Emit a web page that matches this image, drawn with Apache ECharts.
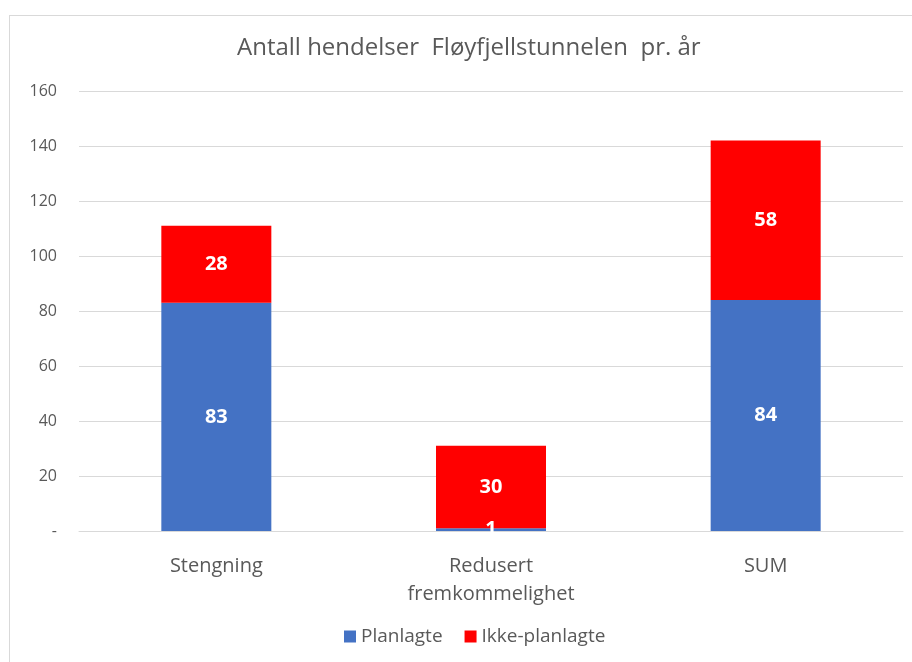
<!DOCTYPE html>
<html>
<head>
<meta charset="utf-8">
<script src="https://cdn.jsdelivr.net/npm/echarts@6/dist/echarts.min.js"></script>
<style>
  html, body { margin: 0; padding: 0; background: #fff; }
  #frame { position: absolute; left: 9px; top: 15px; width: 1000px; height: 1000px;
           border-left: 1px solid #d9d9d9; border-top: 1px solid #d9d9d9; }
  #main { position: absolute; left: 0; top: 0; width: 912px; height: 662px; }
</style>
</head>
<body>
<div id="frame"></div>
<div id="main"></div>
<script>
// kategorier og verdier
var categories = ['Stengning', 'Redusert\nfremkommelighet', 'SUM'];
var planlagte = [83, 1, 84];
var ikkePlanlagte = [28, 30, 58];

var FONT = '"Open Sans", "Noto Sans", sans-serif';

function initChart() {
    var myChart = echarts.init(document.getElementById('main'), null, { renderer: 'canvas' });

    var option = {
        backgroundColor: 'transparent',
        title: {
            text: 'Antall hendelser  Fløyfjellstunnelen  pr. år',
            left: 232,
            top: 31,
            textStyle: { fontFamily: FONT, fontSize: 24, fontWeight: 'normal', color: '#595959' }
        },
        legend: {
            bottom: 11,
            left: 339,
            itemWidth: 12,
            itemHeight: 12,
            itemGap: 22,
            icon: 'rect',
            textStyle: { fontFamily: FONT, fontSize: 19, color: '#595959' },
            data: ['Planlagte', 'Ikke-planlagte']
        },
        grid: { left: 79, right: 9, top: 91, bottom: 131 },
        xAxis: {
            type: 'category',
            data: categories,
            axisLine: { show: true, lineStyle: { color: '#d9d9d9' } },
            axisTick: { show: false },
            axisLabel: { fontFamily: FONT, fontSize: 20, color: '#595959', margin: 21, lineHeight: 28 }
        },
        yAxis: {
            type: 'value',
            min: 0,
            max: 160,
            interval: 20,
            axisLine: { show: false },
            axisTick: { show: false },
            splitLine: { lineStyle: { color: '#d9d9d9', width: 1 } },
            axisLabel: {
                fontFamily: FONT, fontSize: 16, color: '#595959', margin: 22,
                formatter: function (v) { return v === 0 ? '-' : v; }
            }
        },
        series: [
            {
                name: 'Planlagte',
                type: 'bar',
                stack: 'total',
                barWidth: 110,
                data: planlagte,
                itemStyle: { color: '#4472c4' },
                label: {
                    show: true, position: 'inside',
                    fontFamily: FONT, fontSize: 20, fontWeight: 'bold', color: '#fff'
                }
            },
            {
                name: 'Ikke-planlagte',
                type: 'bar',
                stack: 'total',
                barWidth: 110,
                data: ikkePlanlagte,
                itemStyle: { color: '#ff0000' },
                label: {
                    show: true, position: 'inside',
                    fontFamily: FONT, fontSize: 20, fontWeight: 'bold', color: '#fff'
                }
            }
        ]
    };

    myChart.setOption(option);
}

window.addEventListener('load', initChart);
</script>
</body>
</html>
